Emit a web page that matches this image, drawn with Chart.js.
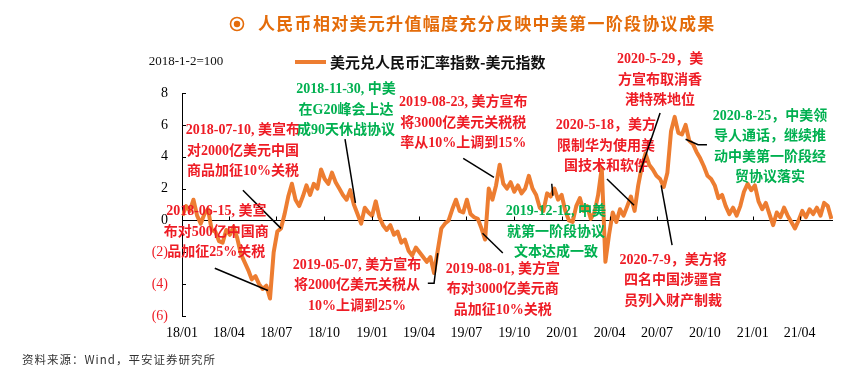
<!DOCTYPE html>
<html>
<head>
<meta charset="utf-8">
<script src="https://cdn.jsdelivr.net/npm/chart.js@4.4.1/dist/chart.umd.min.js"></script>
<style>
  html, body { margin: 0; padding: 0; background: #fff; }
  canvas { display: block; }
</style>
</head>
<body>
<canvas id="chart" width="861" height="367"></canvas>
<script>
// USD/CNY index minus dollar index (2018-1-2 = 100), one reading per week
const startDate = '2018-01-02';
const spreadValues = [
  0.3, 0.9, 0.6, 1.3, 0.3, -0.2, 0.4, 0.7, -0.6, -0.7,
  -1.3, -1.4, -0.6, -0.9, -0.4, -1.1, -2.1, -2.6, -3.1, -3.7,
  -3.5, -4.0, -4.3, -4.1, -4.9, -2.0, -0.7, -0.5, 0.4, 1.5,
  2.3, 1.3, 0.9, 1.5, 2.2, 1.6, 2.3, 2.0, 3.2, 2.6,
  2.3, 3.0, 2.4, 2.0, 1.6, 1.3, 1.9, 1.0, 0.4, -0.2,
  0.8, 0.5, 0.3, 1.2, 0.2, -0.3, -0.6, -0.3, -0.9, -0.7,
  -1.4, -1.2, -1.9, -2.2, -1.7, -2.0, -2.3, -2.6, -2.3, -3.3,
  -1.9, -0.5, -0.2, 0.0, 0.7, 1.3, 0.6, 0.5, 1.3, 0.4,
  0.2, 0.1, -0.5, -1.2, 2.0, 1.3, 2.2, 3.5, 2.3, 2.0,
  2.4, 1.8, 2.2, 1.7, 2.0, 2.8, 2.0, 1.6, 0.8, 0.6,
  1.7, 1.5, 2.0, 1.3, 1.6, 0.6, 0.0, -0.1, 0.9, 1.4,
  0.6, 0.9, 0.1, 0.5, 1.6, 3.3, -2.6, -0.9, 0.5, -0.1,
  0.7, 0.3, 0.9, 1.5, 0.6, 2.2, 3.4, 4.2, 3.5, 3.2,
  2.8, 2.6, 2.1, 3.0, 5.6, 6.5, 5.5, 5.4, 6.0, 5.0,
  4.8, 4.3, 3.9, 3.4, 2.8, 2.6, 2.2, 1.4, 1.6, 0.9,
  0.4, 0.8, 0.3, 0.9, 1.8, 2.3, 1.9, 2.2, 1.2, 0.7,
  1.1, 0.4, -0.3, 0.5, 0.2, 0.8, 0.3, -0.1, -0.5, 0.0,
  0.6, 0.2, 0.7, 0.4, 0.8, 0.3, 1.1, 0.9, 0.1
];
const quarterLabels = ['18/01', '18/04', '18/07', '18/10', '19/01', '19/04', '19/07',
  '19/10', '20/01', '20/04', '20/07', '20/10', '21/01', '21/04'];
const yTicks = [8, 6, 4, 2, 0, -2, -4, -6];
const endDate = '2021-06-04';

// event notes: text lines, first-line centre, leader line to the curve
const notes = [
  { side: 'us', lines: ['2018-07-10, 美宣布', '对2000亿美元中国', '商品加征10%关税'],
    at: ['2018-04-28', 5.65], path: [['2018-04-28', 1.9], ['2018-07-10', -0.5]] },
  { side: 'us', lines: ['2018-06-15, 美宣', '布对500亿中国商', '品加征25%关税'],
    at: ['2018-03-08', 0.56], path: [['2018-03-05', -3.0], ['2018-06-15', -4.4]] },
  { side: 'cn', lines: ['2018-11-30, 中美', '在G20峰会上达', '成90天休战协议'],
    at: ['2018-11-12', 8.2], path: [['2018-11-10', 5.1], ['2018-11-30', 1.1]] },
  { side: 'us', lines: ['2019-08-23, 美方宣布', '将3000亿美元关税税', '率从10%上调到15%'],
    at: ['2019-06-25', 7.4], path: [['2019-06-25', 3.9], ['2019-08-23', 2.7]] },
  { side: 'us', lines: ['2019-05-07, 美方宣布', '将2000亿美元关税从', '10%上调到25%'],
    at: ['2018-12-03', -2.8], path: [['2019-04-18', -3.95], ['2019-04-30', -3.95], ['2019-05-07', -2.05]] },
  { side: 'us', lines: ['2019-08-01, 美方宣', '布对3000亿美元商', '品加征10%关税'],
    at: ['2019-09-09', -3.05], path: [['2019-08-01', -0.8], ['2019-09-09', -2.05]] },
  { side: 'cn', lines: ['2019-12-12, 中美', '就第一阶段协议', '文本达成一致'],
    at: ['2019-12-20', 0.56], path: [['2019-12-12', 2.3], ['2019-12-14', 1.55]] },
  { side: 'us', lines: ['2020-5-18，美方', '限制华为使用美', '国技术和软件'],
    at: ['2020-03-25', 5.95], path: [['2020-03-27', 2.6], ['2020-05-18', 0.95]] },
  { side: 'us', lines: ['2020-5-29，美', '方宣布取消香', '港特殊地位'],
    at: ['2020-07-07', 10.1], path: [['2020-07-07', 6.75], ['2020-05-29', 3.0]] },
  { side: 'us', lines: ['2020-7-9，美方将', '四名中国涉疆官', '员列入财产制裁'],
    at: ['2020-08-01', -2.5], path: [['2020-07-09', 2.2], ['2020-07-30', -1.55]] },
  { side: 'cn', lines: ['2020-8-25，中美领', '导人通话，继续推', '动中美第一阶段经', '贸协议落实'],
    at: ['2021-02-03', 6.55], path: [['2020-08-25', 5.1], ['2020-09-18', 4.75], ['2020-10-05', 4.75]] },
];

const ORANGE = '#ED7D31';
const TITLE_ORANGE = '#E46C0A';
const RED = '#EE1C25';
const GREEN = '#00B050';
const SERIF = "'Liberation Serif', 'Noto Sans CJK SC', serif";
const CJK = "'Noto Sans CJK SC', sans-serif";

const dayOf = s => (Date.parse(s) - Date.parse('2018-01-01')) / 864e5;
const quarterDays = quarterLabels.map(l => dayOf(`20${l.slice(0, 2)}-${l.slice(3)}-01`));
const points = spreadValues.map((v, i) => ({ x: dayOf(startDate) + 7 * i, y: v }));

const decor = {
  id: 'decor',
  afterDraw(chart) {
    const { ctx, chartArea: area, scales: { x, y } } = chart;
    ctx.save();

    // inward tick marks on the y axis and on the zero line
    ctx.strokeStyle = '#000';
    ctx.lineWidth = 1;
    yTicks.forEach(v => {
      const py = Math.round(y.getPixelForValue(v)) + 0.5;
      ctx.beginPath(); ctx.moveTo(area.left, py); ctx.lineTo(area.left + 4, py); ctx.stroke();
    });
    const y0 = Math.round(y.getPixelForValue(0)) + 0.5;
    quarterDays.slice(1).forEach(d => {
      const px = Math.round(x.getPixelForValue(d)) + 0.5;
      ctx.beginPath(); ctx.moveTo(px, y0); ctx.lineTo(px, y0 - 4); ctx.stroke();
    });

    // title
    ctx.fillStyle = TITLE_ORANGE;
    ctx.strokeStyle = TITLE_ORANGE;
    ctx.lineWidth = 1.6;
    ctx.beginPath(); ctx.arc(237, 24, 6.5, 0, Math.PI * 2); ctx.stroke();
    ctx.beginPath(); ctx.arc(237, 24, 3.2, 0, Math.PI * 2); ctx.fill();
    ctx.font = `bold 17px ${CJK}`;
    ctx.textAlign = 'left';
    ctx.textBaseline = 'middle';
    ctx.letterSpacing = '1.3px';
    ctx.fillText('人民币相对美元升值幅度充分反映中美第一阶段协议成果', 258, 24);
    ctx.letterSpacing = '0px';

    // legend and base note
    ctx.strokeStyle = ORANGE;
    ctx.lineWidth = 4;
    ctx.beginPath(); ctx.moveTo(295, 62); ctx.lineTo(326, 62); ctx.stroke();
    ctx.fillStyle = '#111';
    ctx.font = `bold 15px ${CJK}`;
    ctx.fillText('美元兑人民币汇率指数-美元指数', 330, 62);
    ctx.font = `13px ${SERIF}`;
    ctx.textAlign = 'center';
    ctx.fillText('2018-1-2=100', 186, 62);

    // source
    ctx.textAlign = 'left';
    ctx.fillStyle = '#333';
    ctx.font = `11.5px ${CJK}`;
    ctx.letterSpacing = '1px';
    ctx.fillText('资料来源：Wind，平安证券研究所', 22, 360);
    ctx.letterSpacing = '0px';

    // event notes
    notes.forEach(n => {
      ctx.strokeStyle = '#000';
      ctx.lineWidth = 1.5;
      ctx.beginPath();
      n.path.forEach(([d, v], i) => {
        const px = x.getPixelForValue(dayOf(d));
        const py = y.getPixelForValue(v);
        if (i === 0) ctx.moveTo(px, py); else ctx.lineTo(px, py);
      });
      ctx.stroke();

      ctx.fillStyle = n.side === 'us' ? RED : GREEN;
      ctx.font = `bold 14px ${SERIF}`;
      ctx.textAlign = 'center';
      ctx.textBaseline = 'middle';
      const cx = x.getPixelForValue(dayOf(n.at[0]));
      const cy = y.getPixelForValue(n.at[1]);
      n.lines.forEach((t, i) => ctx.fillText(t, cx, cy + i * 20.5));
    });

    ctx.restore();
  }
};

new Chart(document.getElementById('chart'), {
  type: 'line',
  data: {
    datasets: [{
      label: '美元兑人民币汇率指数-美元指数',
      data: points,
      borderColor: ORANGE,
      borderWidth: 4,
      borderJoinStyle: 'round',
      pointRadius: 0,
      tension: 0,
      fill: false,
    }]
  },
  options: {
    responsive: false,
    animation: false,
    devicePixelRatio: 1,
    layout: { padding: { top: 93, right: 28, left: 0, bottom: 0 } },
    plugins: {
      legend: { display: false },
      title: { display: false },
      tooltip: { enabled: false }
    },
    scales: {
      x: {
        type: 'linear',
        min: 0,
        max: dayOf(endDate),
        afterBuildTicks: s => { s.ticks = quarterDays.map(d => ({ value: d })); },
        afterFit: s => { s.height = 51; },
        grid: { display: false, drawTicks: false },
        border: { display: false },
        ticks: {
          autoSkip: false,
          maxRotation: 0,
          padding: 9,
          color: '#000',
          font: { family: SERIF, size: 14 },
          callback: (v, i) => quarterLabels[i]
        }
      },
      y: {
        min: -6,
        max: 8,
        afterBuildTicks: s => { s.ticks = yTicks.map(v => ({ value: v })); },
        afterFit: s => { s.width = 182; },
        grid: {
          drawTicks: false,
          lineWidth: 1,
          color: c => (c.tick && c.tick.value === 0 ? '#000' : 'rgba(0,0,0,0)')
        },
        border: { display: true, color: '#000', width: 1 },
        ticks: {
          padding: 14,
          font: { family: SERIF, size: 14 },
          color: c => (c.tick && c.tick.value < 0 ? RED : '#000'),
          callback: v => (v < 0 ? `(${-v})` : `${v}`)
        }
      }
    }
  },
  plugins: [decor]
});
</script>
</body>
</html>
